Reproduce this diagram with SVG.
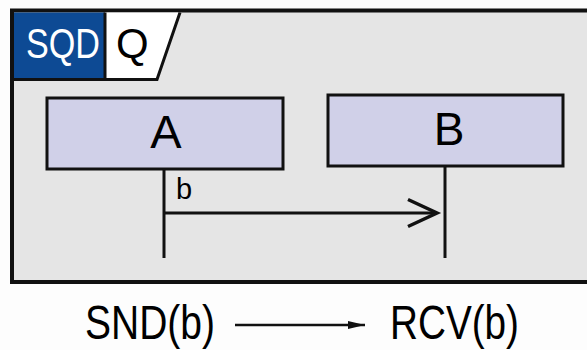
<svg xmlns="http://www.w3.org/2000/svg" width="587" height="350" viewBox="0 0 587 350">
<style>
.t{font-family:"Liberation Sans",Arial,sans-serif;fill:#000}
.box{fill:#d0d0e8;stroke:#111;stroke-width:3}
.ln{stroke:#111;stroke-width:3;fill:none}
</style>
<defs>
<marker id="open" markerWidth="32" markerHeight="30" refX="30" refY="15" orient="auto" markerUnits="userSpaceOnUse" overflow="visible">
<path d="M1,1.5 L30,15 L1,28.5" fill="none" stroke="#111" stroke-width="3.5"/>
</marker>
<marker id="fill" markerWidth="18" markerHeight="10" refX="17" refY="5" orient="auto" markerUnits="userSpaceOnUse" overflow="visible">
<path d="M0,1 L17,5 L0,9 Z" fill="#111"/>
</marker>
</defs>
<rect width="587" height="350" fill="#fdfdfd"/>
<g id="frame">
<rect x="12" y="10.5" width="590" height="271.5" fill="#e5e5e5" stroke="#111" stroke-width="4"/>
<rect x="14" y="12.5" width="91" height="66.5" fill="#0d4a94"/>
<path d="M105,12.5 L180,12.5 L157,79.5 L105,79.5 Z" fill="#fff"/>
<path d="M105,12.5 L105,79.5 M12,79.5 L157,79.5 L180,12.5" class="ln"/>
<text x="26" y="58" class="t" font-size="42" style="fill:#fff" textLength="74" lengthAdjust="spacingAndGlyphs">SQD</text>
<text x="116" y="58" class="t" font-size="42">Q</text>
</g>
<g id="A">
<rect x="47" y="98" width="236" height="71" class="box"/>
<text x="166" y="148" class="t" font-size="47" text-anchor="middle">A</text>
</g>
<g id="B">
<rect x="328" y="95" width="235" height="71" class="box"/>
<text x="449" y="145" class="t" font-size="46" text-anchor="middle">B</text>
</g>
<g id="connectors">
<line x1="164" y1="169" x2="164" y2="258" class="ln"/>
<line x1="445" y1="166" x2="445" y2="258" class="ln"/>
<line x1="164" y1="213" x2="437" y2="213" class="ln" marker-end="url(#open)"/>
<text x="176" y="199" class="t" font-size="29">b</text>
</g>
<g id="legend">
<text x="85" y="339" class="t" font-size="48" textLength="130" lengthAdjust="spacingAndGlyphs">SND(b)</text>
<line x1="235" y1="325" x2="365" y2="325" stroke="#111" stroke-width="2.5" marker-end="url(#fill)"/>
<text x="390" y="339" class="t" font-size="48" textLength="129" lengthAdjust="spacingAndGlyphs">RCV(b)</text>
</g>
</svg>
